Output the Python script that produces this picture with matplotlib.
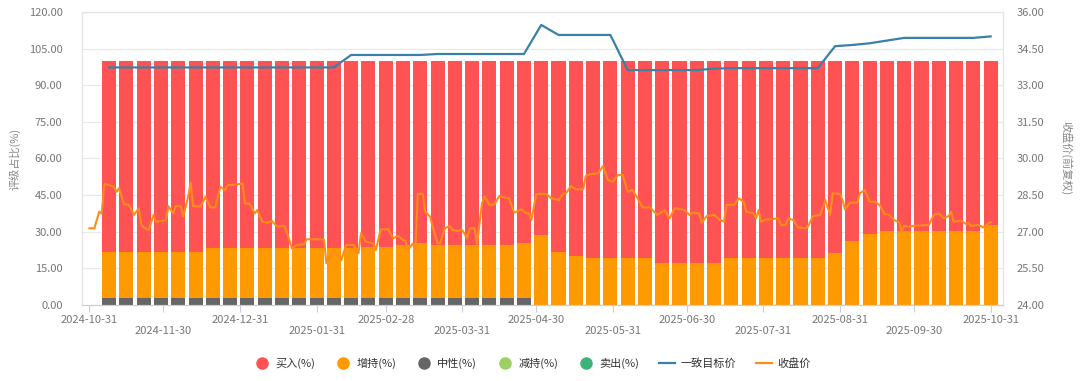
import datetime as dt
import pandas as pd
import matplotlib.pyplot as plt
import matplotlib.dates as mdates
from matplotlib.lines import Line2D

plt.rcParams['font.family'] = ['Noto Sans CJK SC', 'DejaVu Sans']

# weekly rating mix (%), one bar per Friday
week_start = '2024-11-08'
neutral = [2.9, 2.9, 2.9, 2.9, 2.9, 2.9, 2.9, 2.9, 2.9, 2.9,
           2.9, 2.9, 2.9, 2.9, 2.9, 2.9, 2.9, 2.9, 2.9, 2.9,
           2.9, 2.9, 2.9, 2.9, 2.9, 0, 0, 0, 0, 0,
           0, 0, 0, 0, 0, 0, 0, 0, 0, 0,
           0, 0, 0, 0, 0, 0, 0, 0, 0, 0,
           0, 0]
overweight = [18.9, 18.9, 18.9, 18.9, 18.9, 18.9, 20.6, 20.6, 20.6, 20.6,
              20.6, 20.6, 20.6, 20.6, 20.6, 21.0, 21.0, 21.7, 22.4, 21.7,
              21.7, 21.7, 21.7, 21.7, 22.6, 28.7, 21.8, 20.2, 19.4, 19.4,
              19.4, 19.4, 17.0, 17.0, 17.0, 17.0, 19.4, 19.4, 19.4, 19.4,
              19.4, 19.4, 21.4, 26.3, 29.2, 30.4, 30.4, 30.4, 30.4, 30.4,
              30.4, 32.8]
buy = [78.2, 78.2, 78.2, 78.2, 78.2, 78.2, 76.5, 76.5, 76.5, 76.5,
       76.5, 76.5, 76.5, 76.5, 76.5, 76.1, 76.1, 75.4, 74.7, 75.4,
       75.4, 75.4, 75.4, 75.4, 74.5, 71.3, 78.2, 79.8, 80.6, 80.6,
       80.6, 80.6, 83.0, 83.0, 83.0, 83.0, 80.6, 80.6, 80.6, 80.6,
       80.6, 80.6, 78.6, 73.7, 70.8, 69.6, 69.6, 69.6, 69.6, 69.6,
       69.6, 67.2]
underweight = [0] * 52
sell = [0] * 52

target = [33.73, 33.73, 33.73, 33.73, 33.73, 33.73, 33.73, 33.73, 33.73, 33.73,
          33.73, 33.73, 33.73, 33.73, 34.24, 34.24, 34.24, 34.24, 34.24, 34.28,
          34.28, 34.28, 34.28, 34.28, 34.28, 35.47, 35.06, 35.06, 35.06, 35.06,
          33.62, 33.62, 33.62, 33.62, 33.62, 33.68, 33.70, 33.70, 33.70, 33.70,
          33.70, 33.70, 34.60, 34.65, 34.72, 34.83, 34.94, 34.94, 34.94, 34.94,
          34.94, 35.00]

# daily close (days after 2024-10-31)
close_day = [0, 2, 4, 5, 6, 8, 10, 11, 12, 14,
             16, 18, 20, 21, 22, 24, 26, 27, 29, 31,
             32, 34, 35, 37, 38, 40, 41, 42, 45, 47,
             49, 51, 53, 55, 56, 60, 62, 63, 65, 67,
             68, 70, 72, 74, 76, 79, 81, 82, 84, 87,
             88, 95, 96, 99, 102, 104, 107, 109, 110, 112,
             115, 116, 118, 121, 123, 125, 127, 128, 129, 131,
             132, 133, 135, 136, 138, 139, 141, 142, 144, 146,
             147, 149, 151, 153, 154, 156, 157, 159, 160, 162,
             164, 166, 168, 170, 172, 175, 177, 178, 179, 181,
             185, 187, 190, 192, 193, 195, 197, 200, 201, 203,
             206, 207, 208, 210, 212, 214, 216, 218, 220, 222,
             224, 227, 230, 233, 235, 237, 241, 243, 244, 247,
             248, 250, 253, 255, 257, 258, 261, 263, 265, 266,
             269, 270, 271, 272, 274, 276, 279, 280, 282, 283,
             285, 287, 290, 291, 293, 296, 298, 300, 301, 304,
             305, 306, 308, 311, 312, 314, 316, 318, 320, 322,
             324, 326, 328, 329, 330, 332, 334, 340, 342, 344,
             346, 348, 349, 350, 353, 355, 356, 357, 360, 362,
             364, 365]
close_price = [27.14, 27.14, 27.82, 27.75, 28.95, 28.91, 28.84, 28.64, 28.78, 28.14,
               28.10, 27.69, 27.96, 27.28, 27.18, 27.07, 27.69, 27.41, 27.44, 27.48,
               28.05, 27.75, 28.05, 28.05, 27.62, 28.43, 29.01, 28.05, 28.03, 28.43,
               28.00, 28.00, 28.84, 28.71, 28.91, 28.94, 28.98, 28.16, 28.14, 27.75,
               27.89, 27.41, 27.37, 27.44, 27.21, 27.24, 26.66, 26.32, 26.46, 26.49,
               26.69, 26.69, 25.71, 26.25, 25.84, 26.46, 26.46, 26.12, 26.94, 26.59,
               26.52, 26.25, 27.10, 27.10, 26.73, 26.83, 26.66, 26.63, 26.25, 26.52,
               26.25, 28.55, 28.55, 27.82, 27.62, 27.21, 26.53, 26.53, 27.14, 27.24,
               27.07, 27.04, 27.07, 26.73, 27.14, 27.14, 26.50, 28.16, 28.46, 28.10,
               28.12, 28.46, 28.41, 28.37, 27.78, 27.92, 27.75, 27.75, 27.48, 28.55,
               28.55, 28.37, 28.30, 28.57, 28.57, 28.87, 28.74, 28.74, 29.28, 29.36,
               29.39, 29.53, 29.69, 29.12, 29.05, 29.32, 29.32, 28.64, 28.71, 28.37,
               28.00, 28.00, 27.69, 27.89, 27.55, 27.96, 27.89, 27.69, 27.78, 27.75,
               27.37, 27.64, 27.69, 27.51, 27.41, 28.10, 28.10, 28.37, 28.23, 27.82,
               27.75, 27.55, 27.89, 27.41, 27.51, 27.51, 27.55, 27.28, 27.28, 27.55,
               27.48, 27.18, 27.14, 27.21, 27.64, 27.69, 28.30, 27.69, 28.57, 28.55,
               28.30, 27.92, 28.19, 28.19, 28.57, 28.71, 28.23, 28.23, 28.10, 27.73,
               27.69, 27.48, 27.37, 27.00, 27.24, 27.21, 27.24, 27.28, 27.69, 27.75,
               27.55, 27.64, 27.82, 27.41, 27.45, 27.32, 27.37, 27.24, 27.28, 27.18,
               27.34, 27.39]

tick_dates = ['2024-10-31', '2024-11-30', '2024-12-31', '2025-01-31', '2025-02-28',
              '2025-03-31', '2025-04-30', '2025-05-31', '2025-06-30', '2025-07-31',
              '2025-08-31', '2025-09-30', '2025-10-31']

c_buy, c_ow, c_neu, c_uw, c_sell = '#FF5252', '#FF9900', '#666666', '#9CD064', '#3DB37A'
c_target, c_close = '#3A80A8', '#FF8C1A'
grey = '#777777'

weeks = pd.date_range(week_start, periods=len(buy), freq='7D')
close_dates = [pd.Timestamp('2024-10-31') + pd.Timedelta(days=d) for d in close_day]

fig = plt.figure(figsize=(10.8, 3.81), dpi=100)
ax = fig.add_axes([0.0759, 0.1995, 0.8528, 0.769])
ax2 = ax.twinx()

w = 5.7
bottom = [0] * len(buy)
for vals, col in [(neutral, c_neu), (overweight, c_ow), (buy, c_buy),
                  (underweight, c_uw), (sell, c_sell)]:
    ax.bar(weeks, vals, width=w, bottom=bottom, color=col, linewidth=0)
    bottom = [b + v for b, v in zip(bottom, vals)]

ax2.plot(weeks, target, color=c_target, lw=1.6)
ax2.plot(close_dates, close_price, color=c_close, lw=1.5)

ax.set_ylim(0, 120)
ax.set_yticks(range(0, 121, 15))
ax.set_yticklabels([f'{v:.2f}' for v in range(0, 121, 15)])
ax2.set_ylim(24, 36)
yt2 = [24 + 1.5 * i for i in range(9)]
ax2.set_yticks(yt2)
ax2.set_yticklabels([f'{v:.2f}' for v in yt2])

ax.set_xlim(mdates.date2num(dt.date(2024, 10, 28)), mdates.date2num(dt.date(2025, 11, 5)))
ax.set_xticks([mdates.date2num(pd.Timestamp(d)) for d in tick_dates])
ax.set_xticklabels([d if i % 2 == 0 else '\n' + d for i, d in enumerate(tick_dates)])

ax.set_axisbelow(True)
ax.grid(axis='y', color='#E8E8E8', lw=0.8)
for a in (ax, ax2):
    for s in a.spines.values():
        s.set_color('#E4E4E4')
    a.spines['bottom'].set_color('#C9CDE3')
ax.tick_params(axis='y', length=0, labelsize=8, labelcolor=grey, pad=14)
ax2.tick_params(axis='y', length=0, labelsize=8, labelcolor=grey, pad=10)
ax.tick_params(axis='x', length=5, color='#C9CDE3', labelsize=8, labelcolor=grey, pad=2)

ax.set_ylabel('评级占比(%)', fontsize=8, color='#888888', labelpad=6)
ax2.set_ylabel('收盘价(前复权)', fontsize=8, color='#888888', rotation=-90, labelpad=20)

handles = [
    Line2D([], [], marker='o', ls='', color=c_buy, markersize=8),
    Line2D([], [], marker='o', ls='', color=c_ow, markersize=8),
    Line2D([], [], marker='o', ls='', color=c_neu, markersize=8),
    Line2D([], [], marker='o', ls='', color=c_uw, markersize=8),
    Line2D([], [], marker='o', ls='', color=c_sell, markersize=8),
    Line2D([], [], color=c_target, lw=1.6),
    Line2D([], [], color=c_close, lw=1.6),
]
labels = ['买入(%)', '增持(%)', '中性(%)', '减持(%)', '卖出(%)', '一致目标价', '收盘价']
fig.legend(handles, labels, loc='center', bbox_to_anchor=(0.493, 0.047), ncol=7,
           frameon=False, fontsize=8, labelcolor='#333333', handlelength=1.4,
           handletextpad=0.5, columnspacing=1.8)

fig.savefig('out.png', dpi=100)
